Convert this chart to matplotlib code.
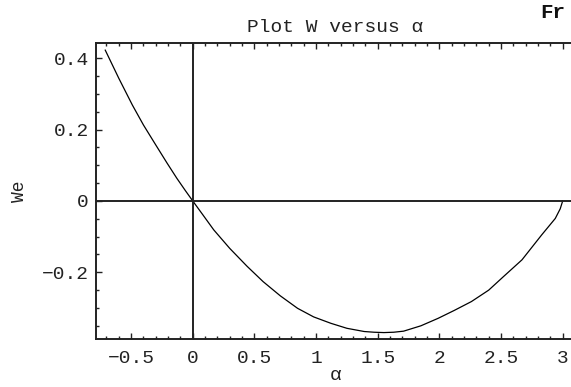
import matplotlib
matplotlib.use("Agg")
import matplotlib.pyplot as plt
from matplotlib.ticker import MultipleLocator

# W against alpha
alpha = [-0.71, -0.60, -0.49, -0.40, -0.30, -0.21, -0.13, -0.06, 0.0,
         0.08, 0.17, 0.30, 0.44, 0.57, 0.71, 0.85, 0.98, 1.12, 1.25,
         1.39, 1.47, 1.55, 1.63, 1.71, 1.85, 1.99, 2.12, 2.26, 2.40,
         2.52, 2.67, 2.83, 2.94, 2.98, 3.0]
W = [0.423, 0.344, 0.269, 0.213, 0.157, 0.107, 0.064, 0.029, 0.0,
     -0.038, -0.081, -0.133, -0.183, -0.226, -0.266, -0.301, -0.325, -0.343, -0.357,
     -0.366, -0.368, -0.369, -0.368, -0.365, -0.350, -0.329, -0.307, -0.282, -0.250,
     -0.212, -0.165, -0.095, -0.049, -0.022, 0.0]

xticks = [-0.5, 0, 0.5, 1, 1.5, 2, 2.5, 3]
xtick_labels = ["\u22120.5", "0", "0.5", "1", "1.5", "2", "2.5", "3"]
yticks = [-0.2, 0, 0.2, 0.4]
ytick_labels = ["\u22120.2", "0", "0.2", "0.4"]

mono = "Liberation Mono"
ink = "#222222"

fig = plt.figure(figsize=(5.71, 3.87), dpi=100)
ax = fig.add_axes([96 / 571, 48 / 387, 479 / 571, 296 / 387])

ax.plot(alpha, W, color="black", lw=0.9)
ax.axhline(0, color=ink, lw=1.4)
ax.axvline(0, color=ink, lw=1.4)

ax.set_xlim(-0.785, 3.10)
ax.set_ylim(-0.387, 0.443)

ax.set_xticks(xticks)
ax.set_xticklabels(xtick_labels)
ax.set_yticks(yticks)
ax.set_yticklabels(ytick_labels)
ax.xaxis.set_minor_locator(MultipleLocator(0.1))
ax.yaxis.set_minor_locator(MultipleLocator(0.05))

ax.tick_params(which="both", direction="in", top=True, right=False,
               color=ink, width=1.0)
ax.tick_params(which="major", length=4, labelsize=14, labelcolor=ink)
ax.tick_params(which="minor", length=2)
ax.tick_params(axis="x", pad=8)
ax.tick_params(axis="y", pad=5)
for lab in ax.get_xticklabels() + ax.get_yticklabels():
    lab.set_family(mono)

for s in ax.spines.values():
    s.set_linewidth(1.4)
    s.set_color(ink)

ax.set_title("Plot W versus \u03b1", family=mono, fontsize=14, color=ink, pad=8)
ax.set_xlabel("\u03b1", family=mono, fontsize=14, color=ink, labelpad=0)
ax.set_ylabel("We", family=mono, fontsize=13, color=ink, labelpad=10)

fig.text(540 / 571, 1 - 13 / 387, "Fr", family=mono, fontsize=15,
         fontweight="bold", color="#111111", va="center", ha="left")

fig.savefig("out.png", dpi=100, facecolor="white")
